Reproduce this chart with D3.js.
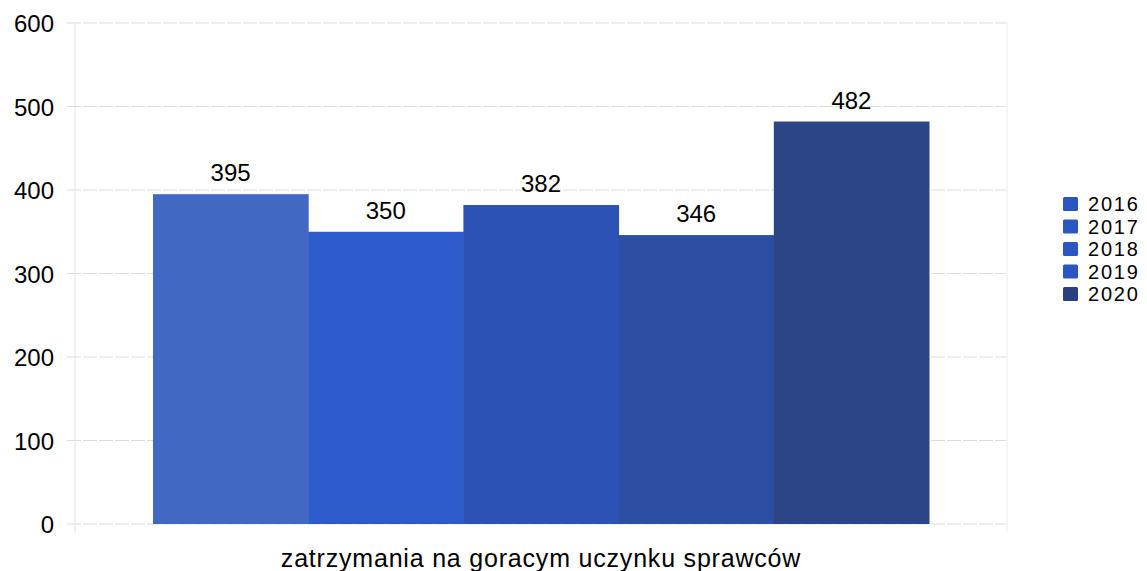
<!DOCTYPE html>
<html><head><meta charset="utf-8">
<script src="https://cdn.jsdelivr.net/npm/d3@7"></script>
<style>body{margin:0;background:#fff;} text{font-family:"Liberation Sans",Arial,sans-serif;fill:#000;}</style>
</head><body>
<svg id="c" width="1147" height="571"></svg>
<script>
const categories = ["zatrzymania na goracym uczynku sprawców"];
const years = ["2016","2017","2018","2019","2020"];
const values = [395, 350, 382, 346, 482];
const barColors = ["#4169c3","#2e5bcb","#2c52b5","#2d4fa3","#2c4587"];
const legendColors = ["#2b55c0","#2b55c0","#2b55c0","#2b55c0","#2a3f80"];
const yTicks = [0,100,200,300,400,500,600];

const svg = d3.select("#c");
const L = 75, R = 1007, T = 23, B = 524;
const y = d3.scaleLinear().domain([0,600]).range([B,T]);
const x0 = d3.scaleBand().domain(categories).range([L,R]).paddingOuter(0.1005).paddingInner(0);
const x1 = d3.scaleBand().domain(years).range([0,x0.bandwidth()]).padding(0);

// grid
svg.append("g").selectAll("line").data(yTicks).join("line")
  .attr("x1",L-8).attr("x2",R).attr("y1",d=>y(d)).attr("y2",d=>y(d))
  .attr("stroke","#dedede").attr("stroke-width",1.2).attr("stroke-dasharray","14,2");
svg.append("line").attr("x1",L).attr("x2",L).attr("y1",T).attr("y2",B+8).attr("stroke","#e2e2e2");
svg.append("line").attr("x1",R).attr("x2",R).attr("y1",T).attr("y2",B+8).attr("stroke","#ececec");

// y axis labels
const yAxis = d3.axisLeft(y).tickValues(yTicks).tickSize(0).tickPadding(0);
const ga = svg.append("g").attr("transform",`translate(${L-21},0)`).call(yAxis);
ga.select(".domain").remove();
ga.selectAll("text").attr("font-size",24).attr("font-family","Liberation Sans, Arial, sans-serif").attr("fill","#000").attr("dy","0.36em");

// bars
const g = svg.append("g").attr("transform",`translate(${x0(categories[0])},0)`);
g.selectAll("rect").data(values).join("rect")
  .attr("x",(d,i)=>x1(years[i])).attr("width",x1.bandwidth()+0.5)
  .attr("y",d=>y(d)).attr("height",d=>B-y(d))
  .attr("fill",(d,i)=>barColors[i]);
g.selectAll("text.v").data(values).join("text").attr("class","v")
  .attr("x",(d,i)=>x1(years[i])+x1.bandwidth()/2).attr("y",d=>y(d)-13)
  .attr("text-anchor","middle").attr("font-size",24).text(d=>d);

// category label
svg.append("text").attr("x",x0(categories[0])+x0.bandwidth()/2).attr("y",567)
  .attr("text-anchor","middle").attr("font-size",25).attr("letter-spacing",0.8).text(categories[0]);

// legend
const lg = svg.append("g");
years.forEach((yr,i)=>{
  const yy = 204 + i*22.5;
  lg.append("rect").attr("x",1063).attr("y",yy-7).attr("width",15).attr("height",14).attr("rx",1.5).attr("fill",legendColors[i]);
  lg.append("text").attr("x",1088).attr("y",yy).attr("dy","0.36em").attr("font-size",20).attr("letter-spacing",1.8).text(yr);
});
</script>
</body></html>
